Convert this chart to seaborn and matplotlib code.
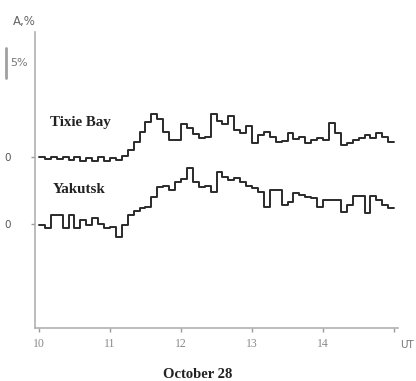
import numpy as np
import pandas as pd
import matplotlib
matplotlib.use("Agg")
import matplotlib.pyplot as plt
import seaborn as sns
from matplotlib.lines import Line2D

# 5-minute mean amplitude variations (%), October 28, 10-15 UT
tixie_bay = [0, -0.3, 0, -0.3, 0, -0.5, 0, -0.7, -0.2, -0.7,
             0, -0.7, -0.2, -0.5, 0.2, 1.2, 2.5, 4.2, 5.8, 7.2,
             6.3, 4.2, 2.8, 2.8, 5.5, 4.8, 3.8, 3.2, 3.3, 7.2,
             6.0, 5.5, 6.8, 4.5, 4.0, 5.2, 2.3, 3.7, 4.2, 3.3,
             2.5, 2.7, 4.0, 3.0, 3.3, 2.3, 2.8, 3.2, 2.8, 5.7,
             4.0, 2.0, 2.3, 2.8, 3.2, 3.7, 3.2, 4.0, 3.3, 2.5]
yakutsk = [-0.2, -0.7, 1.5, 1.5, -0.7, 1.5, -0.7, 0.7, -0.2, 1.0,
           0, -0.7, -0.5, -2.2, -0.2, 1.5, 2.2, 2.7, 2.8, 4.5,
           6.2, 6.3, 5.7, 7.0, 7.5, 9.3, 7.0, 6.2, 6.3, 5.3,
           8.7, 7.8, 7.3, 7.7, 7.0, 6.3, 6.0, 5.3, 2.8, 5.7,
           5.7, 3.2, 3.7, 5.2, 4.8, 4.5, 4.3, 2.8, 4.0, 4.0,
           4.0, 2.0, 3.2, 4.7, 4.7, 1.8, 4.7, 4.0, 3.2, 2.7]
stations = ["Tixie Bay", "Yakutsk"]
offsets = [28.5, 17.3]          # vertical shift of each trace (%)
hour_ticks = [10, 11, 12, 13, 14, 15]
hour_labels = ["10", "11", "12", "13", "14", ""]

step_h = 5 / 60.0
frames = []
for name, vals, off in zip(stations, [tixie_bay, yakutsk], offsets):
    v = list(vals) + [vals[-1]]
    t = 10 + step_h * np.arange(len(v))
    frames.append(pd.DataFrame({"UT": t, "A": np.array(v) + off, "station": name}))
df = pd.concat(frames, ignore_index=True)

sns.set_style("white")
serif = ["Liberation Serif", "DejaVu Serif"]
grey = "#8a8a8a"

fig = plt.figure(figsize=(4.16, 3.81), dpi=100)
ax = fig.add_axes([0.084, 0.139, 0.873, 0.777])

for name in stations:
    sub = df[df.station == name]
    sns.lineplot(data=sub, x="UT", y="A", ax=ax, drawstyle="steps-post",
                 color="#2a2a2a", linewidth=1.4, legend=False)

ax.set_xlim(9.944, 15.056)
ax.set_ylim(0, 49.3)
ax.set_xlabel("")
ax.set_ylabel("")

for s in ["top", "right"]:
    ax.spines[s].set_visible(False)
for s in ["left", "bottom"]:
    ax.spines[s].set_color("#b0b0b0")
    ax.spines[s].set_linewidth(1.2)

ax.set_xticks(hour_ticks)
ax.set_xticklabels(hour_labels, fontfamily=serif, fontsize=8.5, color=grey)
ax.set_yticks(offsets)
ax.set_yticklabels(["0", "0"], fontsize=7.5, color="#555555")
ax.tick_params(axis="x", length=3, width=1, color="#9a9a9a", pad=4, bottom=True)
ax.tick_params(axis="y", length=3, width=1, color="#9a9a9a", pad=14, left=True)

ax.text(10.155, 34.3, "Tixie Bay", fontfamily=serif, fontweight="bold",
        fontsize=10.8, color="#222222", va="center", ha="left")
ax.text(10.2, 23.0, "Yakutsk", fontfamily=serif, fontweight="bold",
        fontsize=10.8, color="#222222", va="center", ha="left")

# 5 % amplitude scale bar
fig.add_artist(Line2D([6 / 416, 6 / 416], [1 - 48 / 381, 1 - 78 / 381],
                      transform=fig.transFigure, color="#a0a0a0", linewidth=2))
fig.text(10 / 416, 1 - 63 / 381, "5%", fontsize=8, color="#777777",
         va="center", ha="left")
fig.text(24 / 416, 1 - 22 / 381, "A,%", fontsize=8.5, color="#666666",
         va="center", ha="center")
fig.text(400 / 416, 1 - 345 / 381, "UT", fontsize=7.5, color="#777777",
         va="center", ha="left")
fig.text(0.476, 1 - 375 / 381, "October 28", fontfamily=serif, fontweight="bold",
         fontsize=10.5, color="#222222", va="center", ha="center")

fig.savefig("out.png", dpi=100, facecolor="white")
